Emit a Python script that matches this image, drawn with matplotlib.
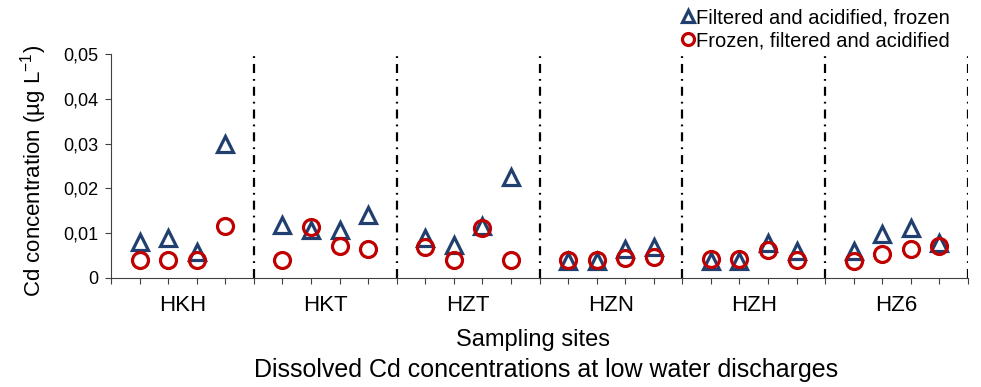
import matplotlib
matplotlib.use('Agg')
import matplotlib.pyplot as plt
from matplotlib.ticker import FuncFormatter, MultipleLocator

sites = ['HKH', 'HKT', 'HZT', 'HZN', 'HZH', 'HZ6']
filtered_first = [0.0080, 0.0089, 0.0058, 0.0300,
                  0.0118, 0.0108, 0.0107, 0.0140,
                  0.0090, 0.0074, 0.0115, 0.0226,
                  0.0038, 0.0038, 0.0064, 0.0069,
                  0.0037, 0.0037, 0.0079, 0.0061,
                  0.0060, 0.0098, 0.0111, 0.0077]
frozen_first = [0.0040, 0.0040, 0.0040, 0.0117,
                0.0040, 0.0113, 0.0072, 0.0065,
                0.0070, 0.0040, 0.0111, 0.0040,
                0.0040, 0.0040, 0.0044, 0.0046,
                0.0042, 0.0042, 0.0063, 0.0040,
                0.0039, 0.0053, 0.0064, 0.0072]

plt.rcParams['font.family'] = ['Liberation Sans', 'DejaVu Sans']
plt.rcParams['lines.scale_dashes'] = False

blue = '#203F6E'
red = '#C00000'

# 5 slots per site: samples on slots 1..4, separator on slot 5
xpos = [5 * (i // 4) + (i % 4) + 1 for i in range(len(filtered_first))]

fig = plt.figure(figsize=(9.81, 3.87), dpi=100)
ax = fig.add_axes([0.1131, 0.2817, 0.8737, 0.5788])

ax.plot(xpos, filtered_first, linestyle='none', marker='^', ms=11,
        mfc='none', mec=blue, mew=2.3, label='Filtered and acidified, frozen')
ax.plot(xpos, frozen_first, linestyle='none', marker='o', ms=11.5,
        mfc='none', mec=red, mew=2.3, label='Frozen, filtered and acidified')

for k in range(1, len(sites) + 1):
    ax.plot([5 * k, 5 * k], [0, 0.05], color='black', lw=1.6,
            dashes=(6.5, 4.3, 1.3, 4.3))

ax.set_xlim(0, 30)
ax.set_ylim(0, 0.05)
ax.spines['top'].set_visible(False)
ax.spines['right'].set_visible(False)
ax.spines['left'].set_color('#404040')
ax.spines['bottom'].set_color('#404040')

ax.xaxis.set_major_locator(MultipleLocator(1))
ax.xaxis.set_major_formatter(FuncFormatter(lambda v, p: ''))
ax.set_xticks([5 * i + 2.5 for i in range(len(sites))], minor=True)
ax.set_xticklabels(sites, minor=True, fontsize=16)
ax.tick_params(axis='x', which='major', direction='out', length=4, color='#404040')
ax.tick_params(axis='x', which='minor', length=0, pad=12)

ax.yaxis.set_major_locator(MultipleLocator(0.01))
ax.yaxis.set_major_formatter(FuncFormatter(
    lambda v, p: '0' if abs(v) < 1e-9 else ('%.2f' % v).replace('.', ',')))
ax.tick_params(axis='y', direction='out', length=4, pad=5, labelsize=13, color='#404040')

ax.set_ylabel('Cd concentration (µg L$^{\\mathregular{-1}}$)', fontsize=16)
ax.yaxis.set_label_coords(-0.072, 0.48)

fig.text(0.543, 0.121, 'Sampling sites', ha='center', va='center', fontsize=17)
fig.text(0.557, 0.043, 'Dissolved Cd concentrations at low water discharges',
         ha='center', va='center', fontsize=18)

fig.legend(loc='upper right', bbox_to_anchor=(0.985, 1.02), frameon=False,
           fontsize=14.5, markerscale=0.75, handlelength=0.6, handletextpad=0.1,
           labelspacing=0.2, borderpad=0.3)

plt.savefig('out.png', dpi=100)
